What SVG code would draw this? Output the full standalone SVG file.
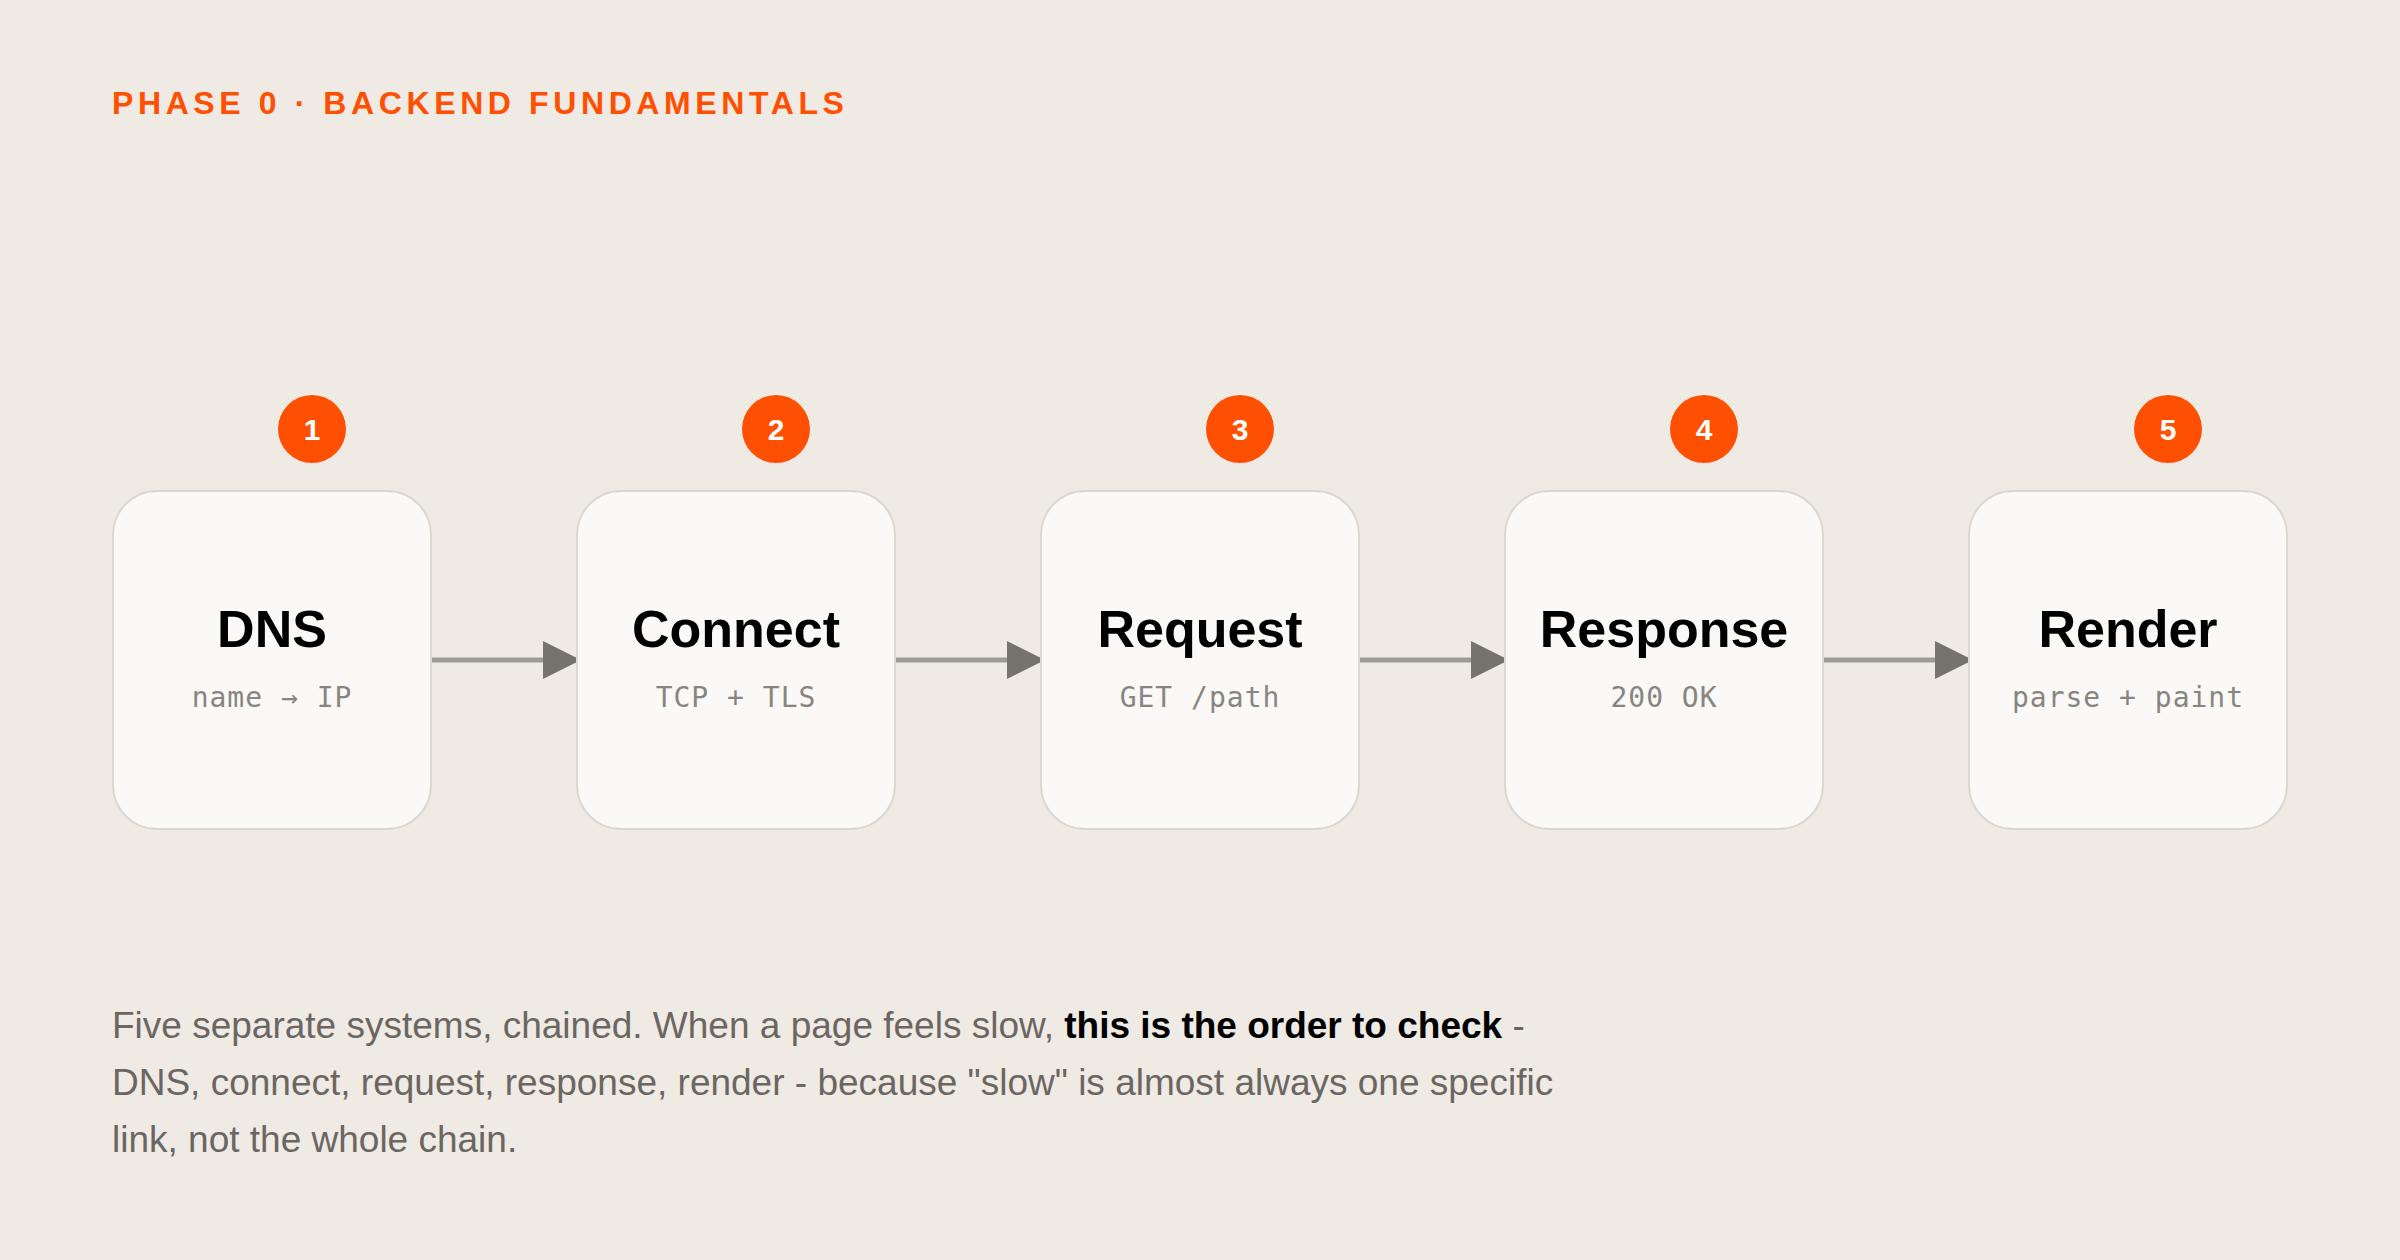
<svg xmlns="http://www.w3.org/2000/svg" width="2400" height="1260" viewBox="0 0 2400 1260">
<defs>
<style>
.box{fill:#faf9f7;stroke:#dcd7d0;stroke-width:2}
.badge{fill:#ff4f00}
.num{font-family:"Liberation Sans",Arial,sans-serif;font-weight:bold;font-size:30px;fill:#fff;text-anchor:middle}
.ttl{font-family:"Liberation Sans",Arial,sans-serif;font-weight:bold;font-size:52px;fill:#000;text-anchor:middle}
.sub{font-family:"DejaVu Sans Mono",monospace;font-size:28px;fill:#888580;text-anchor:middle;letter-spacing:1px}
.ln{stroke:#9e9a95;stroke-width:5;fill:none}
.para{font-family:"Liberation Sans",Arial,sans-serif;font-size:37px;fill:#6b6661}
</style>
<marker id="ah" markerWidth="40" markerHeight="40" refX="38" refY="19" markerUnits="userSpaceOnUse" orient="auto"><path d="M0,0 L38,19 L0,38 Z" fill="#76736f"/></marker>
</defs>
<rect width="2400" height="1260" fill="#efeae4"/>
<text x="112" y="114" font-family="Liberation Sans,Arial,sans-serif" font-weight="bold" font-size="32" letter-spacing="4.6" fill="#ff4f00">PHASE 0 · BACKEND FUNDAMENTALS</text>
<g id="connectors">
<line class="ln" x1="432" y1="660" x2="581" y2="660" marker-end="url(#ah)"/>
<line class="ln" x1="896" y1="660" x2="1045" y2="660" marker-end="url(#ah)"/>
<line class="ln" x1="1360" y1="660" x2="1509" y2="660" marker-end="url(#ah)"/>
<line class="ln" x1="1824" y1="660" x2="1973" y2="660" marker-end="url(#ah)"/>
</g>
<g id="n1"><rect class="box" x="113" y="491" width="318" height="338" rx="44"/><circle class="badge" cx="312" cy="429" r="34"/><text class="num" x="312" y="440">1</text><text class="ttl" x="272" y="647">DNS</text><text class="sub" x="272" y="707">name → IP</text></g>
<g id="n2"><rect class="box" x="577" y="491" width="318" height="338" rx="44"/><circle class="badge" cx="776" cy="429" r="34"/><text class="num" x="776" y="440">2</text><text class="ttl" x="736" y="647">Connect</text><text class="sub" x="736" y="707">TCP + TLS</text></g>
<g id="n3"><rect class="box" x="1041" y="491" width="318" height="338" rx="44"/><circle class="badge" cx="1240" cy="429" r="34"/><text class="num" x="1240" y="440">3</text><text class="ttl" x="1200" y="647">Request</text><text class="sub" x="1200" y="707">GET /path</text></g>
<g id="n4"><rect class="box" x="1505" y="491" width="318" height="338" rx="44"/><circle class="badge" cx="1704" cy="429" r="34"/><text class="num" x="1704" y="440">4</text><text class="ttl" x="1664" y="647">Response</text><text class="sub" x="1664" y="707">200 OK</text></g>
<g id="n5"><rect class="box" x="1969" y="491" width="318" height="338" rx="44"/><circle class="badge" cx="2168" cy="429" r="34"/><text class="num" x="2168" y="440">5</text><text class="ttl" x="2128" y="647">Render</text><text class="sub" x="2128" y="707">parse + paint</text></g>
<text class="para" x="112" y="1038">Five separate systems, chained. When a page feels slow, <tspan font-weight="bold" fill="#000">this is the order to check</tspan> -</text>
<text class="para" x="112" y="1095">DNS, connect, request, response, render - because "slow" is almost always one specific</text>
<text class="para" x="112" y="1152">link, not the whole chain.</text>
</svg>
